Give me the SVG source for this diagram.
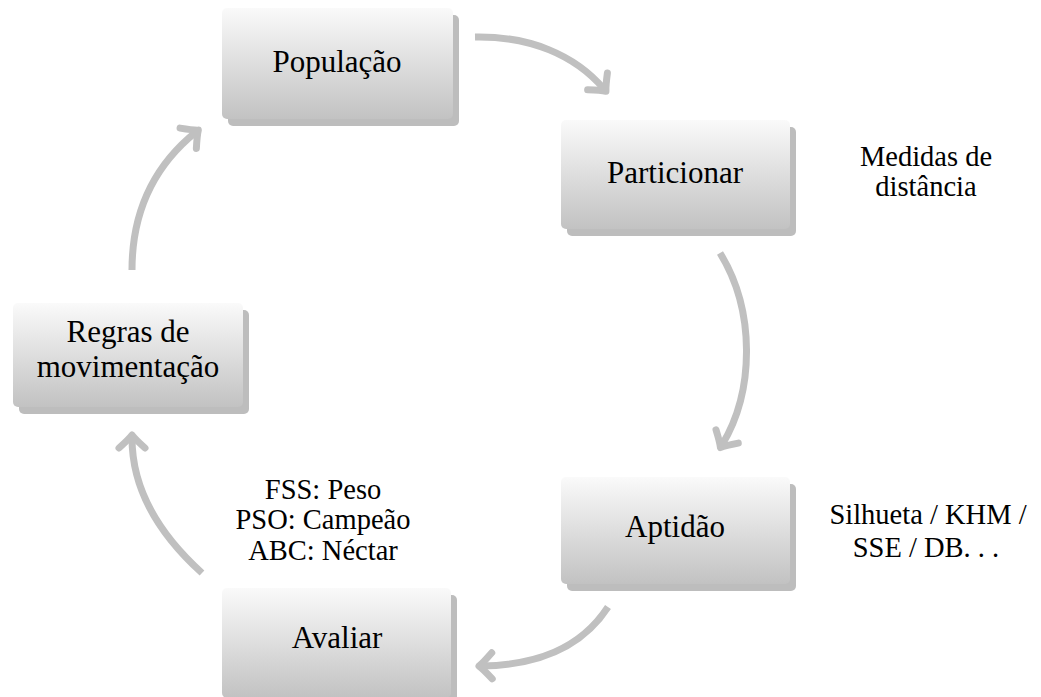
<svg xmlns="http://www.w3.org/2000/svg" width="1041" height="697" viewBox="0 0 1041 697">
<style>
.box{fill:url(#g)}
.sh{fill:#bdbdbd;filter:url(#blur)}
.t{font-family:"Liberation Serif","DejaVu Serif",serif;font-size:31px;fill:#000;text-anchor:middle}
.s{font-family:"Liberation Serif","DejaVu Serif",serif;font-size:28.5px;fill:#000;text-anchor:middle}
.c{fill:none;stroke:#c0c0c0;stroke-width:7;stroke-linecap:butt;marker-end:url(#ah)}
</style>
<defs>
<linearGradient id="g" x1="0" y1="0" x2="0" y2="1">
<stop offset="0" stop-color="#fafafa"/>
<stop offset="1" stop-color="#c2c2c2"/>
</linearGradient>
<filter id="blur" x="-5%" y="-5%" width="110%" height="110%"><feGaussianBlur stdDeviation="0.6"/></filter>
<marker id="ah" markerUnits="userSpaceOnUse" viewBox="-16 -16 24 32" refX="-3" refY="0" markerWidth="24" markerHeight="32" orient="auto" overflow="visible">
<path d="M-13,-13 Q-4,-3 0,0 Q-4,3 -13,13" fill="none" stroke="#c0c0c0" stroke-width="7" stroke-linecap="round" stroke-linejoin="round"/>
</marker>
</defs>
<g id="connectors">
<path class="c" d="M475,37 C530,36 575,55 604,89"/>
<path class="c" d="M720,253 C755,310 755,390 722,445"/>
<path class="c" d="M608,607 C580,650 535,665 482,666"/>
<path class="c" d="M202,573 C160,535 132,490 132,438"/>
<path class="c" d="M132,270 C132,210 155,165 196,132"/>
</g>
<g id="populacao">
<rect class="sh" x="228" y="15" width="231" height="111" rx="5"/>
<rect class="box" x="222" y="8" width="231" height="111" rx="5"/>
<text class="t" x="337" y="72">População</text>
</g>
<g id="particionar">
<rect class="sh" x="567" y="127" width="229" height="109" rx="5"/>
<rect class="box" x="561" y="120" width="229" height="109" rx="5"/>
<text class="t" x="675" y="183">Particionar</text>
</g>
<g id="aptidao">
<rect class="sh" x="567" y="484" width="229" height="107" rx="5"/>
<rect class="box" x="561" y="477" width="229" height="107" rx="5"/>
<text class="t" x="675" y="537">Aptidão</text>
</g>
<g id="avaliar">
<rect class="sh" x="228" y="595" width="229" height="110" rx="5"/>
<rect class="box" x="222" y="588" width="229" height="110" rx="5"/>
<text class="t" x="337" y="648">Avaliar</text>
</g>
<g id="regras">
<rect class="sh" x="19" y="310" width="230" height="104" rx="5"/>
<rect class="box" x="13" y="303" width="230" height="104" rx="5"/>
<text class="t" x="128" y="342">Regras de</text>
<text class="t" x="128" y="377">movimentação</text>
</g>
<g id="labels">
<text class="s" x="926" y="166">Medidas de</text>
<text class="s" x="926" y="196">distância</text>
<text class="s" x="928" y="524">Silhueta / KHM /</text>
<text class="s" x="926" y="557">SSE / DB. . .</text>
<text class="s" x="323" y="499">FSS: Peso</text>
<text class="s" x="323" y="529">PSO: Campeão</text>
<text class="s" x="323" y="560">ABC: Néctar</text>
</g>
</svg>
